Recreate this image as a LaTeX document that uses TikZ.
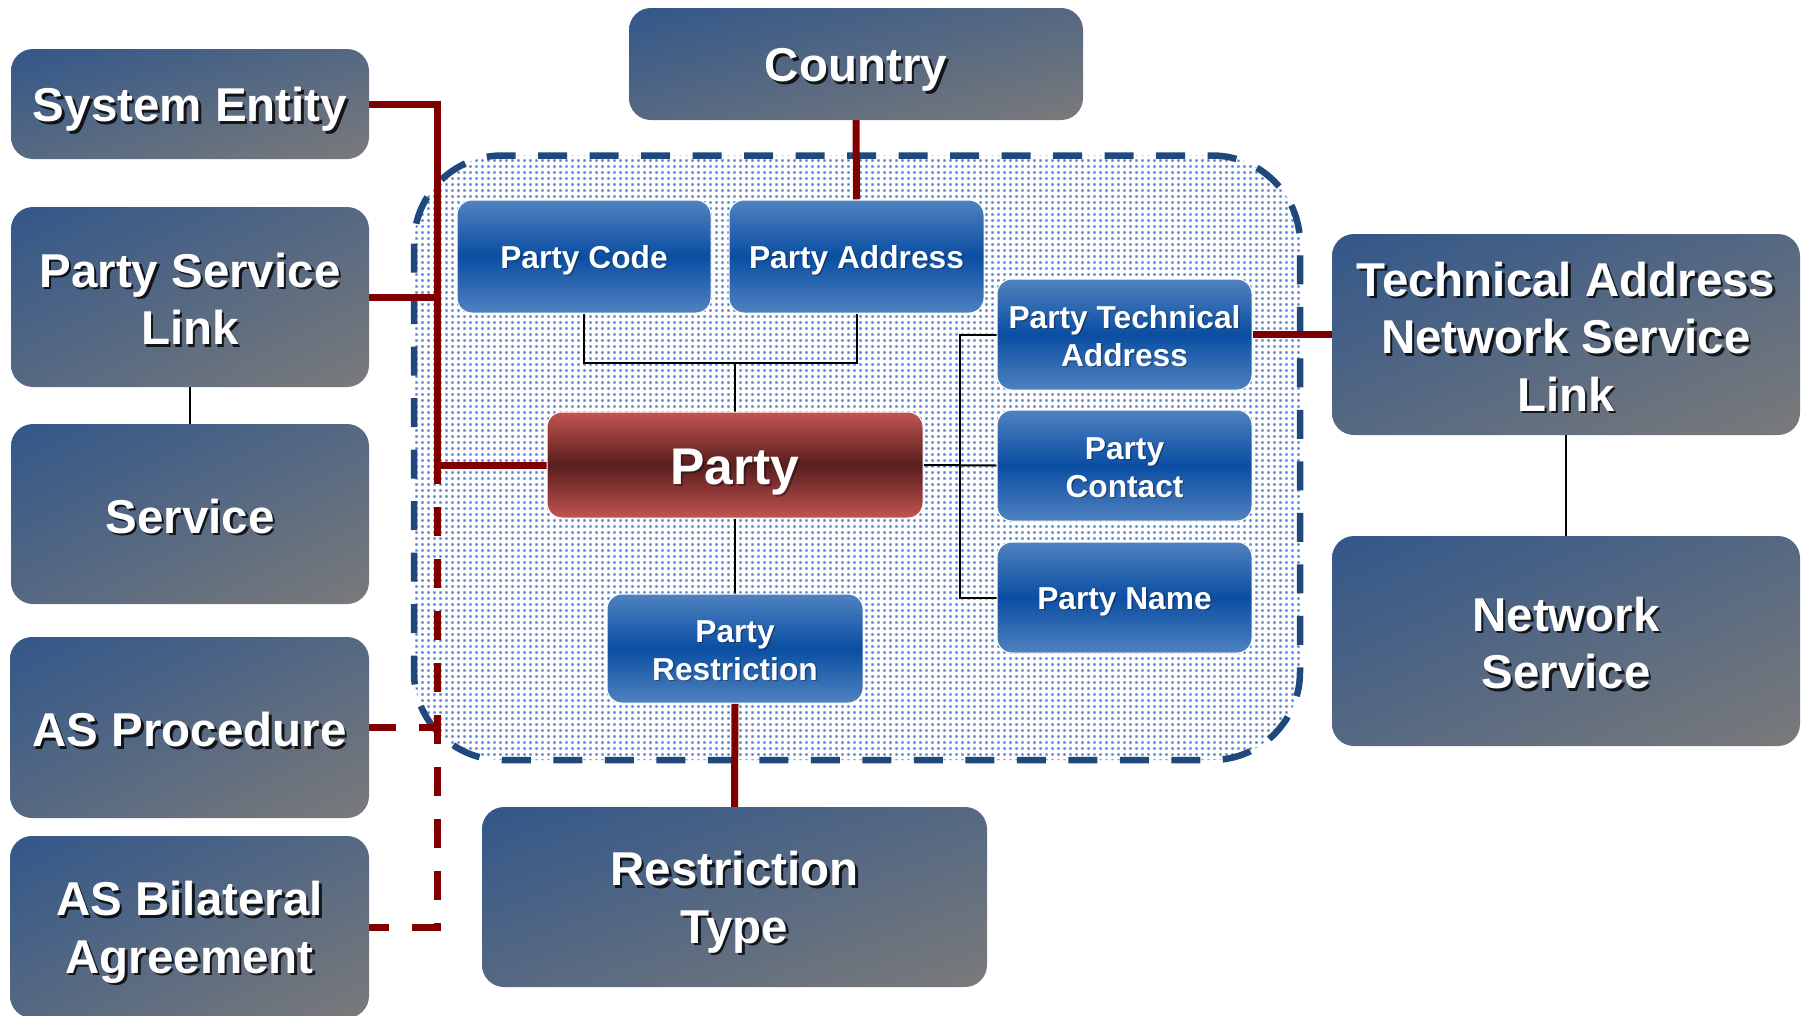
\documentclass[tikz,border=0pt]{standalone}
\usepackage{fontspec}
\setmainfont{Liberation Sans}
\usetikzlibrary{patterns,calc,shadings}

% colours
\definecolor{gbA}{RGB}{50,87,138}
\definecolor{gbB}{RGB}{122,122,122}
\colorlet{gbM}{gbA!50!gbB}
\definecolor{blA}{RGB}{80,130,192}
\definecolor{blB}{RGB}{10,78,162}
\definecolor{rdA}{RGB}{194,84,80}
\definecolor{rdB}{RGB}{88,30,30}
\definecolor{linkred}{RGB}{128,0,0}
\definecolor{framecol}{RGB}{31,73,125}
\definecolor{dotblue}{RGB}{68,114,196}

% fine dot raster for the party area
\pgfdeclarepatternformonly{bluedots}{\pgfpointorigin}{\pgfqpoint{5.6pt}{5.6pt}}{\pgfqpoint{5.6pt}{5.6pt}}{%
  \pgfpathrectangle{\pgfqpoint{1.6pt}{1.6pt}}{\pgfqpoint{2.4pt}{2.4pt}}\pgfusepath{fill}}

\pgfdeclarelayer{framelayer}
\pgfdeclarelayer{linklayer}
\pgfsetlayers{framelayer,linklayer,main}

% line strut: equal height and depth for every text line
\newcommand\st{\rule[-0.15em]{0pt}{1.1em}}

\tikzset{
  entity/.style={rounded corners=22pt, inner sep=0pt,
    upper left=gbA, upper right=gbM, lower left=gbM, lower right=gbB},
  member/.style={rounded corners=15pt, inner sep=0pt, draw=white, line width=1pt,
    top color=blA, bottom color=blA, middle color=blB},
  core/.style={rounded corners=15pt, inner sep=0pt, draw=white, line width=1pt,
    top color=rdA, bottom color=rdA, middle color=rdB},
  bigtext/.style={font=\fontsize{47.5}{57.5}\selectfont\bfseries, text=white,
    align=center, inner sep=0pt},
  smalltext/.style={font=\fontsize{31.7}{38}\selectfont\bfseries, text=white,
    align=center, inner sep=0pt},
  coretext/.style={font=\fontsize{51.6}{60}\selectfont\bfseries, text=white,
    align=center, inner sep=0pt},
  redlink/.style={draw=linkred, line width=7pt},
  reddash/.style={redlink, dash pattern=on 29pt off 23pt},
  thinlink/.style={draw=black, line width=2pt},
  frameline/.style={draw=framecol, line width=6.5pt, dash pattern=on 29pt off 22.5pt,
    rounded corners=88pt}
}

% label with a cast shadow: #1 box, #2 style, #3 shadow offset, #4 shadow opacity, #5 text
\newcommand\labelbox[5]{%
  \node[#2, text=black, text opacity=#4, xshift=#3, yshift=-#3] (#1-s) at (#1.center) {#5};
  \node[#2] (#1-t) at (#1.center) {#5};}

\begin{document}
\begin{tikzpicture}[x=1pt,y=-1pt]
\useasboundingbox (0,0) rectangle (1805,1015);

% party area
\begin{pgfonlayer}{framelayer}
  \fill[white, rounded corners=88pt] (414,155.5) rectangle (1300,760);
  \fill[pattern=bluedots, pattern color=dotblue, rounded corners=88pt] (414,155.5) rectangle (1300,760);
  \draw[frameline] (414,155.5) rectangle (1300,760);
\end{pgfonlayer}

% outer entities
\node[entity, minimum width=358pt, minimum height=110pt] (sys) at (190,104) {};
\node[entity, minimum width=454pt, minimum height=112pt] (country) at (856,64) {};
\node[entity, minimum width=358pt, minimum height=180pt] (psl) at (190,297) {};
\node[entity, minimum width=358pt, minimum height=180pt] (service) at (190,514) {};
\node[entity, minimum width=359pt, minimum height=181pt] (asp) at (189.5,727.5) {};
\node[entity, minimum width=359pt, minimum height=182pt] (asb) at (189.5,927) {};
\node[entity, minimum width=505pt, minimum height=180pt] (rtype) at (734.5,897) {};
\node[entity, minimum width=468pt, minimum height=201pt] (tansl) at (1566,334.5) {};
\node[entity, minimum width=468pt, minimum height=210pt] (nsvc) at (1566,641) {};

% party members
\node[member, minimum width=254pt, minimum height=113pt] (pcode) at (584,256.5) {};
\node[member, minimum width=255pt, minimum height=113pt] (paddr) at (856.5,256.5) {};
\node[member, minimum width=255pt, minimum height=111pt] (pta) at (1124.5,334.5) {};
\node[member, minimum width=255pt, minimum height=111pt] (pcont) at (1124.5,465.5) {};
\node[member, minimum width=255pt, minimum height=111pt] (pname) at (1124.5,597.5) {};
\node[member, minimum width=256pt, minimum height=109pt] (prest) at (735,648.5) {};
\node[core, minimum width=376pt, minimum height=106pt] (party) at (735,465) {};

% labels
\labelbox{sys}{bigtext}{2.5pt}{0.8}{\st System Entity}
\labelbox{country}{bigtext}{2.5pt}{0.8}{\st Country}
\labelbox{psl}{bigtext}{2.5pt}{0.8}{\st Party Service\\\st Link}
\labelbox{service}{bigtext}{2.5pt}{0.8}{\st Service}
\labelbox{asp}{bigtext}{2.5pt}{0.8}{\st AS Procedure}
\labelbox{asb}{bigtext}{2.5pt}{0.8}{\st AS Bilateral\\\st Agreement}
\labelbox{rtype}{bigtext}{2.5pt}{0.8}{\st Restriction\\\st Type}
\labelbox{tansl}{bigtext}{2.5pt}{0.8}{\st Technical Address\\\st Network Service\\\st Link}
\labelbox{nsvc}{bigtext}{2.5pt}{0.8}{\st Network\\\st Service}
\labelbox{pcode}{smalltext}{1.5pt}{0.3}{\st Party Code}
\labelbox{paddr}{smalltext}{1.5pt}{0.3}{\st Party Address}
\labelbox{pta}{smalltext}{1.5pt}{0.3}{\st Party Technical\\\st Address}
\labelbox{pcont}{smalltext}{1.5pt}{0.3}{\st Party\\\st Contact}
\labelbox{pname}{smalltext}{1.5pt}{0.3}{\st Party Name}
\labelbox{prest}{smalltext}{1.5pt}{0.3}{\st Party\\\st Restriction}
\labelbox{party}{coretext}{2pt}{0.35}{\st Party}

% connectors
\coordinate (spx) at (437,0);
\coordinate (rx) at (960,0);
\coordinate (jn) at (735,363);
\begin{pgfonlayer}{linklayer}
  \draw[redlink, line join=miter] (sys.east) -- (sys.east -| spx) -- (party.west -| spx) -- (party.west);
  \draw[redlink] (psl.east) -- (psl.east -| spx);
  \draw[reddash, dash phase=9pt, line join=miter] (asb.east) -- (asb.east -| spx) -- (party.west -| spx);
  \draw[reddash, dash phase=2pt] (asp.east) -- ([xshift=3.5pt]asp.east -| spx);
  \draw[redlink] (country.south) -- (paddr.north);
  \draw[redlink] (pta.east) -- (tansl.west);
  \draw[redlink] (prest.south) -- (rtype.north);

  \draw[thinlink] (psl.south) -- (service.north);
  \draw[thinlink] (tansl.south) -- (nsvc.north);
  \draw[thinlink] (pcode.south) |- (jn) -| (paddr.south);
  \draw[thinlink] (jn) -- (party.north);
  \draw[thinlink] (party.south) -- (prest.north);
  \draw[thinlink] (pta.west) -- (pta.west -| rx) -- (pname.west -| rx) -- (pname.west);
  \draw[thinlink] (party.east) -- (pcont.west);
\end{pgfonlayer}
\end{tikzpicture}
\end{document}
